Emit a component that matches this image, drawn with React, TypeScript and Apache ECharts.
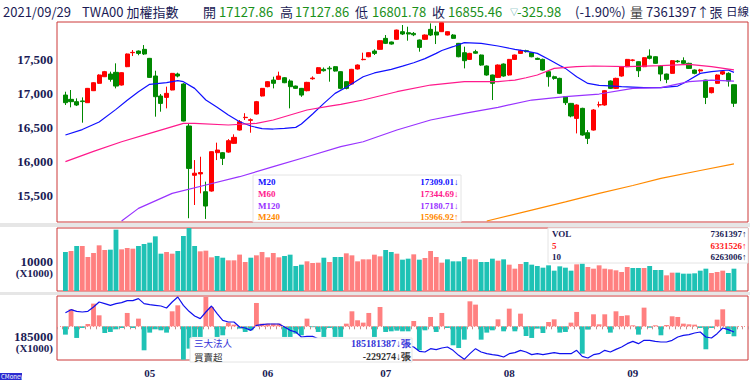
import React, { useEffect, useRef } from 'react';
import * as echarts from 'echarts';

// ---------- data ----------
const monthDays: [string, number[]][] = [
  ['04', [12, 13, 14, 15, 16, 19, 20, 21, 22, 23, 26, 27, 28, 29, 30]],
  ['05', [3, 4, 5, 6, 7, 10, 11, 12, 13, 14, 17, 18, 19, 20, 21, 24, 25, 26, 27, 28, 31]],
  ['06', [1, 2, 3, 4, 7, 8, 9, 10, 11, 15, 16, 17, 18, 21, 22, 23, 24, 25, 28, 29, 30]],
  ['07', [1, 2, 5, 6, 7, 8, 9, 12, 13, 14, 15, 16, 19, 20, 21, 22, 23, 26, 27, 28, 29, 30]],
  ['08', [2, 3, 4, 5, 6, 9, 10, 11, 12, 13, 16, 17, 18, 19, 20, 23, 24, 25, 26, 27, 30, 31]],
  ['09', [1, 2, 3, 6, 7, 8, 9, 10, 13, 14, 15, 16, 17, 22, 23, 24, 27, 28, 29]],
];
const dates: string[] = monthDays.flatMap(([m, ds]) => ds.map((d) => `2021/${m}/${d < 10 ? '0' + d : d}`));

// [open, close, low, high]
const candles: number[][] = [
  [16976, 16864, 16830, 17025], [16913, 16879, 16796, 17050], [16879, 16830, 16815, 16928], [16890, 16880, 16571, 16942],
  [16864, 17074, 16860, 17080], [17040, 17157, 17035, 17165], [17148, 17270, 17140, 17280], [17245, 17319, 17240, 17330],
  [17284, 17206, 17172, 17319], [17309, 17108, 17074, 17441], [17123, 17304, 17115, 17310], [17392, 17578, 17385, 17585],
  [17597, 17602, 17548, 17636], [17621, 17587, 17560, 17630], [17646, 17578, 17563, 17709], [17514, 17235, 17230, 17520],
  [17255, 16952, 16659, 17333], [16962, 16854, 16732, 16991], [16942, 17001, 16781, 17099], [17050, 17294, 17045, 17300],
  [17284, 17255, 17235, 17304], [17138, 16595, 16590, 17150], [16522, 15901, 15170, 16561], [15800, 15830, 15364, 16023],
  [15820, 15840, 15535, 16072], [15559, 15349, 15160, 15706], [15569, 16146, 15560, 16150], [16131, 16170, 16023, 16278],
  [16131, 16048, 15950, 16140], [16140, 16307, 16130, 16330], [16268, 16356, 16260, 16400], [16463, 16585, 16455, 16610],
  [16645, 16650, 16610, 16710], [16605, 16615, 16424, 16634], [16698, 16879, 16690, 16890], [16962, 17074, 16955, 17080],
  [17099, 17172, 17090, 17180], [17196, 17148, 17074, 17245], [17206, 17255, 17196, 17319], [17230, 17157, 17150, 17240],
  [17182, 17099, 16781, 17206], [17108, 17074, 17065, 17115], [17074, 16976, 16950, 17080], [17040, 17162, 17030, 17170],
  [17215, 17225, 17200, 17250], [17294, 17377, 17285, 17385], [17353, 17333, 17320, 17380], [17370, 17360, 17172, 17400],
  [17392, 17328, 17320, 17400], [17319, 17074, 17060, 17325], [17172, 17074, 17060, 17180], [17138, 17353, 17130, 17360],
  [17358, 17416, 17350, 17425], [17495, 17500, 17485, 17597], [17538, 17597, 17530, 17605], [17621, 17587, 17563, 17646],
  [17646, 17773, 17640, 17780], [17807, 17734, 17724, 17856], [17754, 17724, 17715, 17760], [17793, 17929, 17785, 17935],
  [17905, 17871, 17856, 18003], [17890, 17871, 17773, 17978], [17880, 17860, 17840, 17900], [17783, 17675, 17612, 17790],
  [17793, 17856, 17785, 17865], [17939, 17856, 17841, 18027], [17900, 17856, 17724, 17990], [17905, 18034, 17900, 18034],
  [17856, 17905, 17850, 17910], [17856, 17807, 17800, 17870], [17734, 17538, 17530, 17740], [17597, 17480, 17367, 17685],
  [17499, 17587, 17490, 17595], [17612, 17590, 17580, 17640], [17563, 17416, 17405, 17570], [17402, 17270, 17260, 17410],
  [17270, 17148, 16903, 17275], [17235, 17416, 17225, 17425], [17431, 17255, 17245, 17440], [17270, 17499, 17260, 17505],
  [17499, 17563, 17490, 17570], [17587, 17626, 17580, 17640], [17626, 17612, 17600, 17640], [17597, 17538, 17530, 17605],
  [17514, 17499, 17490, 17525], [17499, 17343, 17335, 17510], [17319, 17245, 17099, 17325], [17245, 17220, 17200, 17260],
  [17221, 17001, 16990, 17230], [16952, 16864, 16830, 16960], [16854, 16669, 16650, 16860], [16634, 16830, 16414, 16840],
  [16781, 16390, 16380, 16790], [16424, 16341, 16258, 16463], [16463, 16757, 16455, 16770], [16830, 16835, 16796, 16880],
  [16830, 17040, 16820, 17050], [17182, 17074, 17065, 17190], [17074, 17221, 17065, 17230], [17255, 17392, 17245, 17400],
  [17392, 17499, 17385, 17505], [17485, 17490, 17470, 17500], [17465, 17333, 17240, 17470], [17392, 17524, 17385, 17530],
  [17548, 17514, 17499, 17646], [17538, 17441, 17435, 17545], [17402, 17284, 17180, 17410], [17284, 17206, 17150, 17290],
  [17294, 17480, 17285, 17490], [17475, 17465, 17450, 17490], [17480, 17441, 17416, 17529], [17441, 17367, 17360, 17450],
  [17343, 17294, 17280, 17350], [17330, 17345, 17300, 17360], [17196, 16942, 16844, 17200], [17011, 17084, 17000, 17090],
  [17148, 17270, 17140, 17280], [17284, 17319, 17270, 17330], [17294, 17181, 17100, 17310], [17127.86, 16855.46, 16801.78, 17127.86],
];

// volume, x1000 張
const volume: number[] = [
  12870, 13200, 14850, 14850, 11220, 12540, 15070, 13530, 13640, 20240, 13750, 14190, 13970, 14850, 15510, 15950, 18040, 12320, 12870, 12320,
  13200, 18150, 20790, 14850, 13090, 13310, 11110, 11550, 10990, 10120, 10120, 12010, 9570, 10990, 11770, 12870, 11110, 12540, 11110, 11550,
  11990, 8250, 8690, 9790, 9240, 9350, 10990, 9570, 11220, 11220, 12430, 11770, 9790, 10450, 10450, 11990, 11440, 13530, 12870, 12320,
  10340, 10670, 12100, 10340, 10890, 13200, 11220, 9350, 10450, 9790, 9790, 11220, 10450, 10450, 9570, 9570, 10670, 10010, 10450, 8690,
  7370, 8910, 9570, 8690, 8250, 7700, 8470, 6710, 8140, 7700, 6710, 8800, 9020, 7920, 7370, 8470, 7370, 7150, 6820, 6270,
  7920, 7590, 7590, 7590, 8250, 6930, 6930, 5170, 6050, 6050, 5720, 5720, 5830, 6710, 7370, 5940, 6270, 6710, 5940, 7361,
];
// 1 = red bar, 0 = teal bar
const volumeUp: number[] = [
  0, 1, 0, 1, 1, 1, 1, 1, 0, 0, 1, 1, 1, 0, 0, 0, 0, 0, 1, 1,
  0, 0, 0, 0, 1, 1, 1, 0, 0, 1, 1, 1, 1, 0, 1, 1, 1, 1, 1, 0,
  0, 0, 0, 1, 1, 1, 0, 1, 0, 0, 1, 1, 1, 1, 1, 1, 1, 0, 0, 1,
  0, 0, 1, 0, 1, 1, 1, 1, 0, 0, 0, 0, 1, 1, 0, 0, 0, 1, 0, 1,
  1, 1, 0, 0, 0, 0, 0, 0, 0, 0, 0, 1, 0, 1, 1, 1, 1, 1, 1, 1,
  1, 0, 0, 1, 0, 0, 0, 1, 1, 0, 0, 0, 0, 0, 0, 1, 1, 1, 0, 0,
];

// 三大法人 daily net buy/sell (張)
const instNet: number[] = [
  -191000, 390000, -267000, -38000, 53000, 520000, 252000, -153000, -130000, -69000, -38000, 306000, -38000, 176000, -550000, -145000, -69000, -92000, -145000, 344000,
  481000, -764000, -512000, -244000, -244000, 672000, 443000, -244000, -206000, 84000, 38000, -53000, -130000, -92000, 535000, 61000, 61000, 61000, 61000, -244000,
  -244000, -168000, -206000, 176000, -20000, -130000, -244000, -38000, -244000, -244000, 61000, 344000, 138000, 84000, 306000, -244000, 443000, -130000, -115000, -100000,
  -115000, -115000, 122000, -550000, -92000, 214000, -130000, 306000, -38000, -435000, -497000, -306000, 573000, 497000, -306000, -145000, -92000, 160000, -115000, 405000,
  -115000, 290000, -222000, -267000, -53000, -153000, 99000, 160000, -145000, -130000, 84000, 329000, -627000, -76000, 275000, 46000, 275000, -145000, 344000, 237000,
  252000, 23000, -191000, 428000, -31000, 23000, -206000, 30000, 229000, 214000, 61000, 46000, 38000, -38000, -527000, -38000, 153000, 390000, -176000, -229274,
];
// 三大法人 cumulative (x1000 張)
const instTotal: number[] = [
  186283, 186454, 186359, 186321, 186359, 186606, 186891, 186796, 186701, 186796, 186853, 186967, 186967, 187081, 186796, 186739, 186701, 186663, 186549, 186891,
  187176, 186701, 186359, 186093, 185941, 186321, 186663, 186226, 185846, 185751, 185751, 185466, 185409, 185276, 185561, 185599, 185637, 185637, 185637, 185466,
  185276, 185181, 184896, 184934, 184934, 184800, 184700, 184650, 184550, 184450, 184450, 184550, 184600, 184620, 184700, 184600, 184700, 184620, 184560, 184500,
  184450, 184421, 184326, 184079, 184041, 184231, 184174, 184269, 184326, 184136, 183851, 183623, 183946, 184231, 184041, 183946, 183889, 183851, 183756, 183946,
  184003, 184136, 184041, 183889, 183946, 183889, 183946, 184003, 183946, 183946, 183946, 184136, 183794, 183699, 183889, 183946, 184136, 184041, 184193, 184326,
  184516, 184649, 184516, 184706, 184706, 184649, 184611, 184611, 184706, 184896, 184991, 185029, 185124, 185181, 184896, 184839, 185086, 185409, 185314, 185181,
];

// moving averages read at candle numbers (1-based): [candle, value]
const ma20Pts: [number, number][] = [
  [1, 16390], [4, 16470], [7, 16580], [10, 16766], [12, 16900], [14, 17025], [16, 17133], [19, 17157], [21, 17187], [22, 17172],
  [24, 17074], [26, 16903], [28, 16796], [30, 16683], [32, 16585], [34, 16522], [36, 16483], [38, 16478], [40, 16488], [42, 16502],
  [43, 16551], [45, 16698], [47, 16854], [49, 17001], [51, 17090], [54, 17245], [56, 17300], [59, 17353], [61, 17400], [63, 17450],
  [65, 17510], [67, 17587], [68, 17630], [70, 17685], [72, 17744], [75, 17734], [78, 17695], [81, 17646], [83, 17620], [85, 17587],
  [87, 17500], [89, 17410], [90, 17367], [92, 17245], [94, 17147], [96, 17118], [97, 17113], [100, 17099], [104, 17084], [107, 17084],
  [110, 17108], [111, 17150], [112, 17196], [114, 17294], [116, 17319], [119, 17343], [120, 17309],
];
const ma60Pts: [number, number][] = [
  [1, 16000], [6, 16150], [11, 16292], [16, 16414], [22, 16561], [24, 16561], [30, 16537], [35, 16561], [38, 16610], [44, 16757],
  [48, 16815], [50, 16840], [54, 16903], [60, 17025], [66, 17123], [72, 17172], [78, 17172], [81, 17196], [83, 17230], [85, 17270],
  [88, 17367], [92, 17392], [95, 17402], [101, 17392], [107, 17407], [112, 17426], [116, 17392], [120, 17345],
];
const ma120Pts: [number, number][] = [
  [11, 15130], [14, 15315], [20, 15535], [26, 15657], [32, 15779], [38, 15926], [44, 16072], [50, 16219], [54, 16292], [60, 16463],
  [66, 16610], [72, 16708], [78, 16796], [84, 16903], [90, 16952], [96, 16991], [102, 17074], [107, 17084], [112, 17172], [116, 17196],
  [120, 17181],
];
const ma240Pts: [number, number][] = [
  [76, 15130], [84, 15290], [90, 15410], [96, 15535], [102, 15650], [107, 15755], [114, 15870], [120, 15967],
];

const priceTicks = [15500, 16000, 16500, 17000, 17500];
const maNames = ['M20', 'M60', 'M120', 'M240'];
const maLast = ['17309.01↓', '17344.69↓', '17180.71↓', '15966.92↑'];
const volNames = ['VOL', '5', '10'];
const volLast = ['7361397↑', '6331526↑', '6263006↑'];
const instNames = ['三大法人', '買賣超'];
const instLast = ['185181387↓張', '-229274↓張'];
const headerDate = '2021/09/29';
const headerName = 'TWA00 加權指數';
const qOpen = '17127.86';
const qHigh = '17127.86';
const qLow = '16801.78';
const qClose = '16855.46';
const qChange = '-325.98';
const qPct = '(-1.90%)';
const qVol = '7361397↑張';

// ---------- styling ----------
const RED = '#ff0000';
const GREEN = '#008800';
const VRED = '#ff8080';
const VTEAL = '#1fc2b5';
const NAVY = '#1b1b55';
const QGREEN = '#1a901a';
const MA_COLORS = ['#1010ff', '#ff1a8c', '#9933ff', '#ff8a00'];
const VOL_COLORS = [NAVY, '#ff2020', NAVY];
const INST_COLORS = ['#3535d8', '#333333'];
const BORDER = '#cc3838';
const SERIF = '"Liberation Serif", "Times New Roman", serif';
const SANS = '"Noto Sans CJK TC", "Noto Sans", sans-serif';

const PADL = 1;
const PADR = 2;

function App() {
  const ref = useRef<HTMLDivElement>(null);

  useEffect(() => {
    if (!ref.current) return;
    const chart = echarts.init(ref.current, null, { renderer: 'svg' });

    const cats = [...Array(PADL).fill(''), ...dates, ...Array(PADR).fill('')];
    const total = cats.length;
    const pad = (arr: any[]) => [...Array(PADL).fill('-'), ...arr, ...Array(PADR).fill('-')];
    const sparse = (pts: [number, number][]) => {
      const a: (number | null)[] = new Array(total).fill(null);
      pts.forEach(([k, v]) => {
        a[k - 1 + PADL] = v;
      });
      return a;
    };
    const monthStart = (idx: number) =>
      idx > PADL && cats[idx] !== '' && cats[idx - 1] !== '' && cats[idx].slice(5, 7) !== cats[idx - 1].slice(5, 7);

    const grids = [
      { left: 57, top: 22, width: 691, height: 200 },
      { left: 57, top: 228, width: 691, height: 63 },
      { left: 57, top: 296, width: 691, height: 64 },
    ].map((g) => ({ ...g, show: true, borderColor: BORDER, borderWidth: 1, backgroundColor: '#ffffff' }));

    const xAxes = [0, 1, 2].map((i) => ({
      type: 'category',
      gridIndex: i,
      data: cats,
      boundaryGap: true,
      axisLine: { show: false },
      axisTick: {
        show: i === 2,
        interval: 0,
        length: 3,
        inside: false,
        lineStyle: { color: '#c09090', width: 1 },
      },
      axisLabel: {
        show: i === 2,
        interval: (idx: number) => monthStart(idx),
        formatter: (v: string) => v.slice(5, 7),
        margin: 7,
        color: NAVY,
        fontFamily: SERIF,
        fontWeight: 'bold',
        fontSize: 11,
      },
      splitLine: { show: false },
    }));

    const yAxes = [
      {
        type: 'value',
        gridIndex: 0,
        min: 15115,
        max: 18047,
        position: 'left',
        axisLine: { show: false },
        axisTick: { show: false },
        splitLine: { show: false },
        axisLabel: {
          customValues: priceTicks,
          margin: 4,
          color: NAVY,
          fontFamily: SERIF,
          fontWeight: 'bold',
          fontSize: 13,
        },
      },
      { type: 'value', gridIndex: 1, min: 0, max: 20790, show: false, splitLine: { show: false } },
      { type: 'value', gridIndex: 2, min: -772600, max: 694700, show: false, splitLine: { show: false } },
      { type: 'value', gridIndex: 2, min: 183585, max: 187233, show: false, splitLine: { show: false } },
    ];

    const maSeries = [ma20Pts, ma60Pts, ma120Pts, ma240Pts].map((pts, i) => ({
      type: 'line',
      name: maNames[i],
      xAxisIndex: 0,
      yAxisIndex: 0,
      data: sparse(pts),
      connectNulls: true,
      symbol: 'none',
      smooth: false,
      clip: true,
      lineStyle: { color: MA_COLORS[i], width: 1.2 },
      z: 3,
    }));

    const txt = (text: string, x: number, y: number, fill: string, font: string, align = 'left', lh?: number) => ({
      type: 'text',
      x,
      y,
      z: 110,
      silent: true,
      style: { text, fill, font, textAlign: align, textVerticalAlign: 'middle', ...(lh ? { lineHeight: lh } : {}) },
    });
    const box = (x: number, y: number, w: number, h: number) => ({
      type: 'rect',
      z: 100,
      silent: true,
      shape: { x, y, width: w, height: h },
      style: { fill: '#ffffff', stroke: '#e4e4e4', lineWidth: 1 },
    });

    const hFont = `13px ${SANS}`;
    const graphic: any[] = [
      // separators
      { type: 'rect', z: 1, silent: true, shape: { x: 0, y: 223, width: 750, height: 4 }, style: { fill: '#e6e6e6' } },
      { type: 'rect', z: 1, silent: true, shape: { x: 0, y: 292, width: 750, height: 3 }, style: { fill: '#e6e6e6' } },
      // header
      txt(headerDate, 3, 11, NAVY, hFont),
      txt(headerName, 82, 11, NAVY, hFont),
      txt('開', 203, 11, NAVY, hFont),
      txt(qOpen, 219, 11, QGREEN, hFont),
      txt('高', 280, 11, NAVY, hFont),
      txt(qHigh, 295, 11, QGREEN, hFont),
      txt('低', 355, 11, NAVY, hFont),
      txt(qLow, 372, 11, QGREEN, hFont),
      txt('收', 432, 11, NAVY, hFont),
      txt(qClose, 448, 11, QGREEN, hFont),
      txt('▽', 510, 11, '#3aa0a0', `8px ${SANS}`),
      txt(qChange, 517, 11, QGREEN, hFont),
      txt(qPct, 575, 11, NAVY, hFont),
      txt('量', 630, 11, '#444444', hFont),
      txt(qVol, 646, 11, NAVY, hFont),
      txt('日線', 726, 11, NAVY, `11.5px ${SANS}`),
      // MA legend
      box(253, 175, 208, 47),
      ...maNames.map((n, i) => txt(n, 258, 181.7 + i * 11.9, MA_COLORS[i], `bold 9px ${SERIF}`, 'left', 10)),
      ...maLast.map((n, i) => txt(n, 458.5, 181.7 + i * 11.9, MA_COLORS[i], `bold 9px ${SERIF}`, 'right', 10)),
      // volume legend
      box(548, 228, 200, 35),
      ...volNames.map((n, i) => txt(n, 552, 234.3 + i * 11.2, VOL_COLORS[i], `bold 9px ${SERIF}`, 'left', 10)),
      ...volLast.map((n, i) => txt(n, 746.5, 234.3 + i * 11.2, VOL_COLORS[i], `bold 9px ${SERIF}`, 'right', 10)),
      // institutional legend
      box(190, 338, 222, 24),
      txt(instNames[0], 194, 343.3, INST_COLORS[0], `9.5px ${SANS}`, 'left', 10),
      txt(instNames[1], 194, 356.6, INST_COLORS[1], `9.5px ${SANS}`, 'left', 10),
      txt(instLast[0], 411, 343.3, INST_COLORS[0], `bold 10px ${SERIF}`, 'right', 10),
      txt(instLast[1], 411, 356.6, INST_COLORS[1], `bold 10px ${SERIF}`, 'right', 10),
      // left axis captions
      txt('10000', 53, 261, NAVY, `bold 13px ${SERIF}`, 'right'),
      txt('(X1000)', 53, 273, NAVY, `bold 11px ${SERIF}`, 'right', 11),
      txt('185000', 53, 336, NAVY, `bold 13px ${SERIF}`, 'right'),
      txt('(X1000)', 53, 348, NAVY, `bold 11px ${SERIF}`, 'right', 11),
      // logo
      { type: 'rect', z: 100, silent: true, shape: { x: 0, y: 373, width: 22, height: 7 }, style: { fill: '#2a2ad0' } },
      txt('CMoney', 1, 376.6, '#ffffff', `6px ${SANS}`, 'left', 7),
    ];

    const option: any = {
      animation: false,
      backgroundColor: '#ffffff',
      grid: grids,
      xAxis: xAxes,
      yAxis: yAxes,
      graphic,
      series: [
        {
          type: 'candlestick',
          xAxisIndex: 0,
          yAxisIndex: 0,
          data: pad(candles),
          barWidth: 4.6,
          itemStyle: {
            color: RED,
            color0: GREEN,
            borderColor: RED,
            borderColor0: GREEN,
            borderWidth: 1,
          },
          z: 2,
        },
        ...maSeries,
        {
          type: 'bar',
          xAxisIndex: 1,
          yAxisIndex: 1,
          barWidth: '86%',
          data: pad(volume.map((v, i) => ({ value: v, itemStyle: { color: volumeUp[i] ? VRED : VTEAL } }))),
        },
        {
          type: 'bar',
          xAxisIndex: 2,
          yAxisIndex: 2,
          barWidth: '86%',
          data: pad(instNet.map((v) => ({ value: v, itemStyle: { color: v >= 0 ? VRED : VTEAL } }))),
          markLine: {
            silent: true,
            symbol: ['none', 'none'],
            label: { show: false },
            lineStyle: { color: '#ff8a8a', type: [1, 2], width: 1 },
            data: [{ yAxis: 0 }],
          },
        },
        {
          type: 'line',
          xAxisIndex: 2,
          yAxisIndex: 3,
          data: pad(instTotal),
          symbol: 'none',
          lineStyle: { color: '#1010ee', width: 1.2 },
          z: 4,
        },
      ],
    };

    chart.setOption(option);
    return () => chart.dispose();
  }, []);

  return <div ref={ref} style={{ position: 'absolute', left: 0, top: 0, width: 750, height: 391 }} />;
}

export default App;
